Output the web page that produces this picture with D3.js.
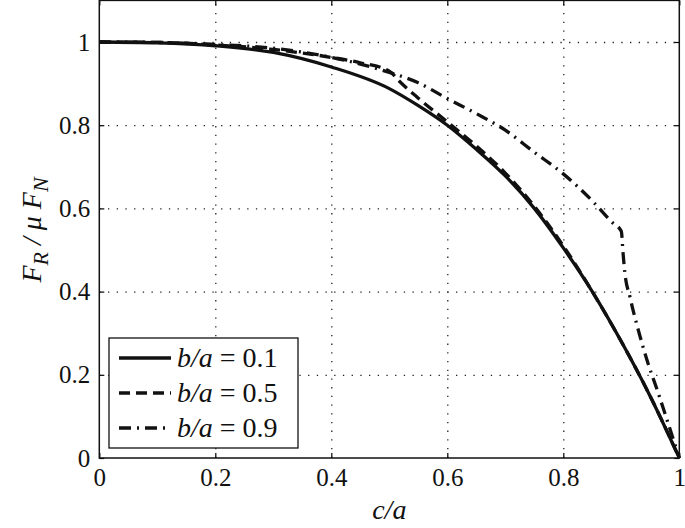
<!DOCTYPE html>
<html><head><meta charset="utf-8">
<script src="https://cdn.jsdelivr.net/npm/d3@7"></script>
<style>body{margin:0;background:#fff}</style></head>
<body><svg id="c" width="685" height="528"></svg>
<script>
// ---- data ----
const xTicks = [0, 0.2, 0.4, 0.6, 0.8, 1];
const yTicks = [0, 0.2, 0.4, 0.6, 0.8, 1];
const xTickLabels = ["0", "0.2", "0.4", "0.6", "0.8", "1"];
const yTickLabels = ["0", "0.2", "0.4", "0.6", "0.8", "1"];

const solidC = [0, 0.1, 0.2, 0.3, 0.4, 0.5, 0.55, 0.6, 0.65, 0.7, 0.75, 0.8, 0.85, 0.9, 0.95, 1];
const solidF = [1, 0.998, 0.991, 0.975, 0.94, 0.888, 0.847, 0.80, 0.742, 0.678, 0.600, 0.505, 0.40, 0.28, 0.148, 0];

const dashC = [0, 0.1, 0.2, 0.3, 0.4, 0.45, 0.5, 0.52, 0.55, 0.6, 0.65, 0.7, 0.75, 0.8, 0.85, 0.9, 0.95, 1];
const dashF = [1, 0.999, 0.993, 0.982, 0.963, 0.95, 0.93, 0.902, 0.865, 0.808, 0.750, 0.685, 0.605, 0.51, 0.40, 0.28, 0.148, 0];

const dashDotC = [0, 0.1, 0.2, 0.3, 0.4, 0.45, 0.5, 0.55, 0.6, 0.65, 0.7, 0.75, 0.8, 0.85, 0.883, 0.9, 0.903, 0.906, 0.915, 0.932, 0.946, 0.963, 0.975, 1];
const dashDotF = [1, 0.999, 0.994, 0.985, 0.963, 0.947, 0.927, 0.902, 0.864, 0.828, 0.788, 0.735, 0.683, 0.618, 0.568, 0.545, 0.493, 0.447, 0.387, 0.294, 0.228, 0.159, 0.108, 0];

const seriesRatio = ["0.1", "0.5", "0.9"];

// ---- layout ----
const svg = d3.select("#c");
const L = 99.3, R = 679.3, T = 0.4, B = 458;
const x = d3.scaleLinear().domain([0, 1]).range([L, R]);
const y = d3.scaleLinear().domain([0, 1.1]).range([B, T]);
const font = "Liberation Serif";

// grid
const gx = svg.append("g").attr("transform", `translate(0,${B})`)
  .call(d3.axisBottom(x).tickValues(xTicks.filter(v => v > 0 && v < 1)).tickSize(-(B - T)).tickFormat(""));
const gy = svg.append("g").attr("transform", `translate(${L},0)`)
  .call(d3.axisLeft(y).tickValues(yTicks.filter(v => v > 0)).tickSize(-(R - L)).tickFormat(""));
[gx, gy].forEach(g => {
  g.select(".domain").remove();
  g.selectAll("line").attr("stroke", "#222").attr("stroke-width", 1.3).attr("stroke-dasharray", "1.3,7.4");
});

function styleAxis(g) {
  g.attr("font-family", font).attr("font-size", 25);
  g.select(".domain").remove();
  g.selectAll("line").attr("stroke", "#000").attr("stroke-width", 1.2);
  g.selectAll("text").attr("fill", "#111");
}
const ax = svg.append("g").attr("transform", `translate(0,${B})`)
  .call(d3.axisBottom(x).tickValues(xTicks).tickSizeInner(-5).tickSizeOuter(0).tickPadding(10)
    .tickFormat((d, i) => xTickLabels[i]));
styleAxis(ax);
ax.selectAll("text").attr("dy", "0.71em");
const ay = svg.append("g").attr("transform", `translate(${L},0)`)
  .call(d3.axisLeft(y).tickValues(yTicks).tickSizeInner(-5).tickSizeOuter(0).tickPadding(9)
    .tickFormat((d, i) => yTickLabels[i]));
styleAxis(ay);
const at = svg.append("g").attr("transform", `translate(0,${T})`)
  .call(d3.axisTop(x).tickValues(xTicks).tickSizeInner(-5).tickSizeOuter(0).tickFormat(""));
styleAxis(at);
const ar = svg.append("g").attr("transform", `translate(${R},0)`)
  .call(d3.axisRight(y).tickValues(yTicks).tickSizeInner(-5).tickSizeOuter(0).tickFormat(""));
styleAxis(ar);

svg.append("rect").attr("x", L).attr("y", T).attr("width", R - L).attr("height", B - T)
  .attr("fill", "none").attr("stroke", "#111").attr("stroke-width", 1.5);

const styles = [{ dash: null }, { dash: "11,6" }, { dash: "12,6,2,6" }];
const series = [
  solidC.map((c, i) => [c, solidF[i]]),
  dashC.map((c, i) => [c, dashF[i]]),
  dashDotC.map((c, i) => [c, dashDotF[i]])
];
const line = d3.line().x(d => x(d[0])).y(d => y(d[1])).curve(d3.curveMonotoneX);
series.forEach((s, i) => {
  svg.append("path").datum(s).attr("d", line).attr("fill", "none")
    .attr("stroke", "#111").attr("stroke-width", 3.3)
    .attr("stroke-dasharray", styles[i].dash);
});

svg.append("text").attr("x", x(0.5)).attr("y", 519).attr("text-anchor", "middle")
  .attr("font-family", font).attr("font-size", 28).attr("font-style", "italic").attr("fill", "#111")
  .text("c/a");

const yl = svg.append("text").attr("transform", `translate(41,230) rotate(-90)`)
  .attr("text-anchor", "middle").attr("font-family", font).attr("font-size", 28)
  .attr("font-style", "italic").attr("fill", "#111");
yl.append("tspan").text("F");
yl.append("tspan").attr("dy", 7).attr("font-size", 22).text("R");
yl.append("tspan").attr("dy", -7).text(" / ");
yl.append("tspan").text("μ F");
yl.append("tspan").attr("dy", 7).attr("font-size", 22).text("N");

const lg = svg.append("g");
lg.append("rect").attr("x", 109).attr("y", 338).attr("width", 189).attr("height", 110)
  .attr("fill", "#fff").attr("stroke", "#111").attr("stroke-width", 1.3);
const rowY = [358, 393, 428];
seriesRatio.forEach((r, i) => {
  lg.append("line").attr("x1", 119).attr("x2", 171).attr("y1", rowY[i]).attr("y2", rowY[i])
    .attr("stroke", "#111").attr("stroke-width", 3.3).attr("stroke-dasharray", styles[i].dash);
  const t = lg.append("text").attr("x", 177).attr("y", rowY[i] + 9)
    .attr("font-family", font).attr("font-size", 28).attr("fill", "#111");
  t.append("tspan").attr("font-style", "italic").text("b/a");
  t.append("tspan").text(" = " + r);
});
</script>
</body></html>
